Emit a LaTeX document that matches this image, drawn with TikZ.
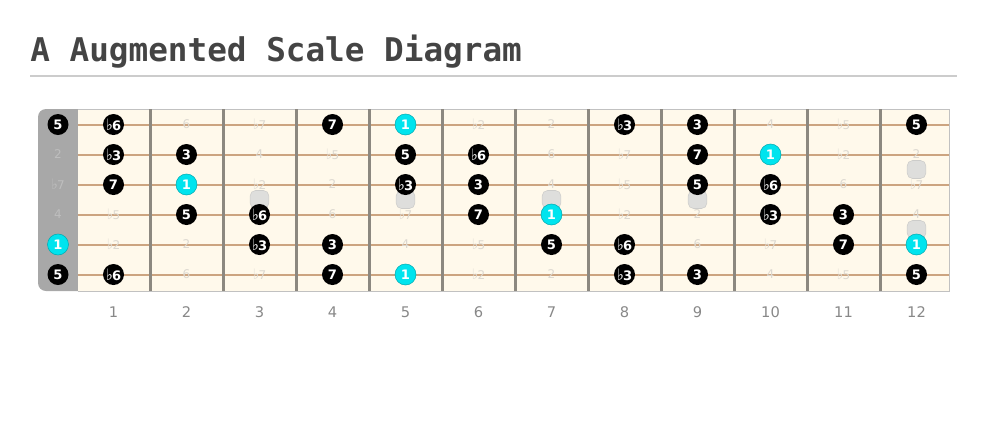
\documentclass[tikz,border=0pt]{standalone}
\usepackage{fontspec}
\setmainfont{DejaVu Sans}
\newfontfamily\titlefont{DejaVu Sans Mono}
\definecolor{cream}{RGB}{255,249,235}
\definecolor{nutgray}{RGB}{168,168,168}
\definecolor{stringc}{RGB}{204,164,128}
\definecolor{fretc}{RGB}{140,136,128}
\definecolor{ghost}{RGB}{220,216,208}
\definecolor{ghostnut}{RGB}{190,190,190}
\definecolor{rootc}{RGB}{0,228,238}
\definecolor{titlec}{RGB}{68,68,68}
\definecolor{rulec}{RGB}{204,204,204}
\definecolor{numc}{RGB}{136,136,136}
\definecolor{markc}{RGB}{222,222,220}
\colorlet{gcol}{ghost}
\newcommand\myflat{\scalebox{1.15}[1.2]{♭}\kern-0.6pt}
\tikzset{
  noten/.style={circle, fill=black, text=white, minimum size=15.75pt, inner sep=0pt,
    font=\fontsize{9.8}{10}\selectfont\bfseries},
  noter/.style={noten, fill=rootc, draw=rootc!75!black, line width=0.4pt},
  noteg/.style={inner sep=0pt, text=gcol, font=\fontsize{9}{10}\selectfont},
  fretnum/.style={text=numc, font=\fontsize{11}{12}\selectfont},
  marker/.style={fill=markc, draw=markc!92!black, line width=0.4pt, rounded corners=4pt,
    minimum width=14pt, minimum height=13.5pt, inner sep=0pt},
}
\begin{document}
\begin{tikzpicture}[x=0.75pt,y=-0.75pt]
\useasboundingbox (0,0) rectangle (987,437);
% title
\node[anchor=base west, inner sep=0pt, text=titlec,
  font=\titlefont\bfseries\fontsize{24.5}{28}\selectfont] (title) at (30,61) {A Augmented Scale Diagram};
\draw[rulec, line width=1.5pt] (30,75.5) -- (957,75.5);
% fretboard
\fill[nutgray, rounded corners=6pt] (38,109) rectangle (95,291);
\fill[cream] (78,109) rectangle (949,291);
\draw[rulec!85!gray, line width=0.75pt] (78,109) -- (949,109) -- (949,291) -- (78,291);
\foreach \s in {0,...,5}
  \draw[stringc, line width=1.5pt] (78,124.5+30*\s) -- (949,124.5+30*\s);
\foreach \k in {1,...,11}
  \draw[fretc, line width=2.25pt] (77+73*\k,109) -- (77+73*\k,291);
% markers
\foreach \k in {3,5,7,9}
  \node[marker] (m\k) at (40.5+73*\k,199.5) {};
\node[marker] (m12a) at (916.5,169.5) {};
\node[marker] (m12b) at (916.5,229.5) {};
% notes
\foreach \s/\lst in {
  1/{5/n,\myflat6/n,6/g,\myflat7/g,7/n,1/r,\myflat2/g,2/g,\myflat3/n,3/n,4/g,\myflat5/g,5/n},
  2/{2/g,\myflat3/n,3/n,4/g,\myflat5/g,5/n,\myflat6/n,6/g,\myflat7/g,7/n,1/r,\myflat2/g,2/g},
  3/{\myflat7/g,7/n,1/r,\myflat2/g,2/g,\myflat3/n,3/n,4/g,\myflat5/g,5/n,\myflat6/n,6/g,\myflat7/g},
  4/{4/g,\myflat5/g,5/n,\myflat6/n,6/g,\myflat7/g,7/n,1/r,\myflat2/g,2/g,\myflat3/n,3/n,4/g},
  5/{1/r,\myflat2/g,2/g,\myflat3/n,3/n,4/g,\myflat5/g,5/n,\myflat6/n,6/g,\myflat7/g,7/n,1/r},
  6/{5/n,\myflat6/n,6/g,\myflat7/g,7/n,1/r,\myflat2/g,2/g,\myflat3/n,3/n,4/g,\myflat5/g,5/n}}{
  \foreach \lab/\typ [count=\f from 0] in \lst {
    \ifnum\f=0 \colorlet{gcol}{ghostnut}\else\colorlet{gcol}{ghost}\fi
    \pgfmathsetmacro\xx{\f==0 ? 58 : 40.5+73*\f}
    \node[note\typ] (n-\s-\f) at (\xx,94.5+30*\s) {\lab};
  }
}
% fret numbers
\foreach \k in {1,...,12}
  \node[fretnum] (fn\k) at (40.5+73*\k,312) {\k};
\end{tikzpicture}
\end{document}
